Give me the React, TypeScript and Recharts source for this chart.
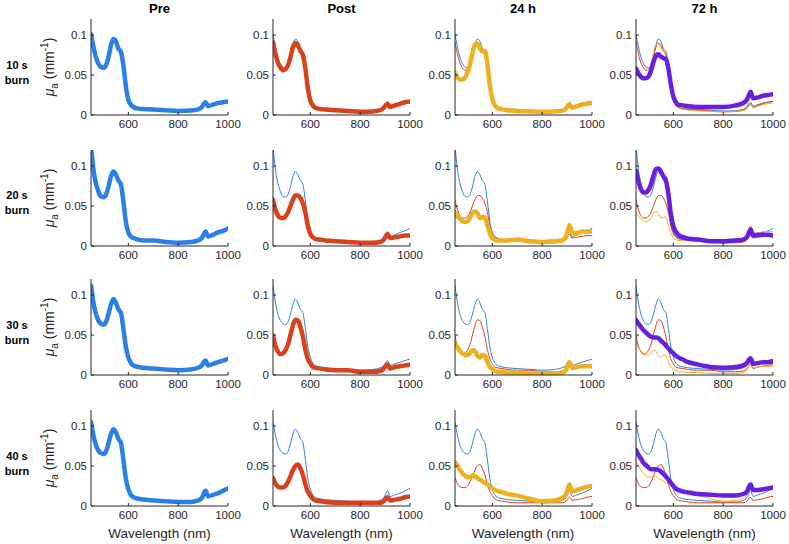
import { LineChart, Line, XAxis, YAxis } from 'recharts';

// wavelength grid (nm)
const WAVELENGTHS = [450, 460, 470, 480, 490, 500, 510, 520, 530, 540, 550, 560, 570, 580, 590, 600, 610, 620, 640, 660, 700, 750, 800, 850, 880, 895, 905, 910, 920, 940, 960, 980, 1000];

// 10 s burn
const pre10 = [0.101, 0.085, 0.072, 0.064, 0.060, 0.059, 0.062, 0.072, 0.087, 0.095, 0.092, 0.083, 0.079, 0.062, 0.036, 0.019, 0.013, 0.010, 0.008, 0.0075, 0.007, 0.006, 0.005, 0.0055, 0.007, 0.010, 0.015, 0.016, 0.011, 0.013, 0.015, 0.016, 0.017];
const post10 = [0.091, 0.076, 0.065, 0.059, 0.056, 0.057, 0.062, 0.072, 0.085, 0.090, 0.087, 0.080, 0.075, 0.058, 0.033, 0.018, 0.012, 0.009, 0.0075, 0.007, 0.006, 0.005, 0.004, 0.0045, 0.006, 0.009, 0.013, 0.014, 0.010, 0.012, 0.014, 0.016, 0.017];
const h24_10 = [0.053, 0.047, 0.044, 0.044, 0.047, 0.053, 0.063, 0.077, 0.088, 0.089, 0.083, 0.080, 0.080, 0.064, 0.037, 0.020, 0.012, 0.009, 0.007, 0.006, 0.005, 0.0045, 0.004, 0.0045, 0.0055, 0.008, 0.012, 0.013, 0.009, 0.011, 0.013, 0.014, 0.015];
const h72_10 = [0.058, 0.052, 0.048, 0.046, 0.046, 0.048, 0.055, 0.066, 0.074, 0.076, 0.073, 0.071, 0.070, 0.058, 0.038, 0.023, 0.016, 0.013, 0.012, 0.011, 0.010, 0.010, 0.010, 0.012, 0.015, 0.019, 0.026, 0.029, 0.021, 0.022, 0.024, 0.025, 0.026];

// 20 s burn
const pre20 = [0.125, 0.095, 0.078, 0.068, 0.062, 0.061, 0.064, 0.074, 0.087, 0.093, 0.089, 0.082, 0.077, 0.056, 0.030, 0.017, 0.012, 0.010, 0.008, 0.007, 0.007, 0.005, 0.004, 0.005, 0.007, 0.010, 0.016, 0.018, 0.012, 0.014, 0.017, 0.019, 0.022];
const post20 = [0.058, 0.045, 0.038, 0.035, 0.035, 0.037, 0.042, 0.050, 0.058, 0.063, 0.063, 0.060, 0.053, 0.042, 0.025, 0.015, 0.011, 0.009, 0.008, 0.007, 0.006, 0.005, 0.004, 0.004, 0.005, 0.008, 0.013, 0.015, 0.010, 0.011, 0.012, 0.013, 0.013];
const h24_20 = [0.042, 0.037, 0.034, 0.031, 0.030, 0.031, 0.035, 0.041, 0.043, 0.041, 0.035, 0.036, 0.036, 0.026, 0.016, 0.010, 0.008, 0.007, 0.007, 0.007, 0.008, 0.006, 0.005, 0.006, 0.007, 0.011, 0.022, 0.026, 0.017, 0.016, 0.018, 0.018, 0.018];
const h72_20 = [0.094, 0.080, 0.071, 0.067, 0.067, 0.070, 0.077, 0.088, 0.096, 0.097, 0.093, 0.087, 0.082, 0.065, 0.040, 0.025, 0.018, 0.014, 0.011, 0.009, 0.008, 0.006, 0.006, 0.007, 0.008, 0.011, 0.018, 0.021, 0.013, 0.014, 0.014, 0.014, 0.013];

// 30 s burn
const pre30 = [0.112, 0.090, 0.076, 0.068, 0.064, 0.063, 0.066, 0.076, 0.088, 0.095, 0.090, 0.082, 0.078, 0.058, 0.035, 0.022, 0.015, 0.012, 0.010, 0.009, 0.008, 0.007, 0.006, 0.007, 0.009, 0.012, 0.017, 0.018, 0.012, 0.014, 0.016, 0.018, 0.020];
const post30 = [0.049, 0.036, 0.029, 0.026, 0.027, 0.031, 0.038, 0.050, 0.062, 0.069, 0.068, 0.060, 0.048, 0.032, 0.020, 0.014, 0.010, 0.009, 0.008, 0.007, 0.006, 0.006, 0.004, 0.004, 0.005, 0.008, 0.012, 0.013, 0.008, 0.010, 0.011, 0.012, 0.013];
const h24_30 = [0.040, 0.034, 0.030, 0.027, 0.025, 0.025, 0.027, 0.031, 0.030, 0.024, 0.022, 0.025, 0.024, 0.016, 0.010, 0.007, 0.005, 0.004, 0.004, 0.003, 0.003, 0.002, 0.002, 0.002, 0.003, 0.006, 0.014, 0.016, 0.009, 0.010, 0.011, 0.011, 0.011];
const h72_30 = [0.069, 0.064, 0.060, 0.056, 0.053, 0.050, 0.048, 0.047, 0.047, 0.046, 0.043, 0.040, 0.037, 0.033, 0.030, 0.027, 0.024, 0.022, 0.019, 0.016, 0.013, 0.010, 0.009, 0.010, 0.012, 0.015, 0.020, 0.021, 0.014, 0.015, 0.016, 0.016, 0.017];

// 40 s burn
const pre40 = [0.105, 0.088, 0.076, 0.069, 0.066, 0.065, 0.068, 0.078, 0.090, 0.096, 0.092, 0.084, 0.079, 0.058, 0.034, 0.021, 0.014, 0.011, 0.009, 0.008, 0.007, 0.006, 0.005, 0.005, 0.007, 0.010, 0.017, 0.019, 0.012, 0.014, 0.016, 0.019, 0.022];
const post40 = [0.035, 0.028, 0.024, 0.023, 0.023, 0.025, 0.030, 0.037, 0.045, 0.050, 0.052, 0.047, 0.039, 0.027, 0.018, 0.013, 0.009, 0.007, 0.006, 0.005, 0.004, 0.004, 0.004, 0.004, 0.004, 0.006, 0.010, 0.011, 0.007, 0.008, 0.009, 0.011, 0.012];
const h24_40 = [0.055, 0.050, 0.045, 0.041, 0.038, 0.036, 0.036, 0.038, 0.037, 0.035, 0.033, 0.031, 0.029, 0.027, 0.025, 0.022, 0.020, 0.019, 0.017, 0.015, 0.013, 0.009, 0.006, 0.007, 0.010, 0.014, 0.024, 0.027, 0.018, 0.020, 0.022, 0.024, 0.025];
const h72_40 = [0.070, 0.064, 0.059, 0.054, 0.051, 0.048, 0.046, 0.046, 0.046, 0.045, 0.043, 0.040, 0.037, 0.033, 0.029, 0.025, 0.022, 0.020, 0.018, 0.017, 0.015, 0.014, 0.013, 0.013, 0.015, 0.018, 0.025, 0.027, 0.020, 0.020, 0.021, 0.022, 0.023];

const ROW_LABELS = ['10 s', '20 s', '30 s', '40 s'];
const ROW_SERIES = [
  [pre10, post10, h24_10, h72_10],
  [pre20, post20, h24_20, h72_20],
  [pre30, post30, h24_30, h72_30],
  [pre40, post40, h24_40, h72_40],
];
const COL_TITLES = ['Pre', 'Post', '24 h', '72 h'];
const SERIES_KEYS = ['pre', 'post', 'h24', 'h72'];
const SERIES_COLORS = ['#2C7FE6', '#D9411A', '#EDB120', '#6A1FE0'];
const X_TICKS = [600, 800, 1000];
const Y_TICKS = [0, 0.05, 0.1];

// layout
const PLOT_LEFT = [91, 273, 454.5, 636];
const PLOT_TOP = [19, 149.5, 279, 410];
const PLOT_W = 137;
const PLOT_H = 96;
const AXIS_W = 30;
const AXIS_H = 22;
const M_TOP = 4;
const M_RIGHT = 14;
const INK = '#262626';
const FONT = '"Liberation Sans", Arial, Helvetica, sans-serif';

function buildRows(series: number[][]) {
  return WAVELENGTHS.map((wl, i) => {
    const row: Record<string, number> = { wl };
    SERIES_KEYS.forEach((k, j) => {
      row[k] = series[j][i];
    });
    return row;
  });
}

function Panel({ r, c }: { r: number; c: number }) {
  const data = buildRows(ROW_SERIES[r]);
  const thin = SERIES_KEYS.slice(0, c);
  return (
    <div style={{ position: 'absolute', left: PLOT_LEFT[c] - AXIS_W, top: PLOT_TOP[r] - M_TOP }}>
      <LineChart
        width={AXIS_W + PLOT_W + M_RIGHT}
        height={M_TOP + PLOT_H + AXIS_H}
        data={data}
        margin={{ top: M_TOP, right: M_RIGHT, bottom: 0, left: 0 }}
      >
        <XAxis
          dataKey="wl"
          type="number"
          domain={[450, 1000]}
          ticks={X_TICKS}
          interval={0}
          allowDataOverflow
          height={AXIS_H}
          tickSize={-3}
          tickMargin={8}
          stroke={INK}
          tick={{ fontSize: 11.5, fill: INK, fontFamily: FONT }}
        />
        <XAxis
          xAxisId="top"
          orientation="top"
          dataKey="wl"
          type="number"
          domain={[450, 1000]}
          ticks={X_TICKS}
          interval={0}
          allowDataOverflow
          height={0}
          tickSize={-3}
          tick={false}
          stroke={INK}
        />
        <YAxis
          type="number"
          domain={[0, 0.12]}
          ticks={Y_TICKS}
          interval={0}
          allowDataOverflow
          width={AXIS_W}
          tickSize={-3}
          tickMargin={7}
          stroke={INK}
          tick={{ fontSize: 11.5, fill: INK, fontFamily: FONT }}
        />
        <YAxis
          yAxisId="right"
          orientation="right"
          type="number"
          domain={[0, 0.12]}
          ticks={Y_TICKS}
          interval={0}
          allowDataOverflow
          width={0}
          tickSize={-3}
          tick={false}
          stroke={INK}
        />
        {/* earlier time points, thin */}
        {thin.map((k, j) => (
          <Line
            key={k}
            type="monotone"
            dataKey={k}
            stroke={SERIES_COLORS[j]}
            strokeWidth={1}
            dot={false}
            isAnimationActive={false}
          />
        ))}
        {/* current time point, thick */}
        <Line
          type="monotone"
          dataKey={SERIES_KEYS[c]}
          stroke={SERIES_COLORS[c]}
          strokeWidth={4.5}
          strokeLinejoin="round"
          strokeLinecap="round"
          dot={false}
          isAnimationActive={false}
        />
      </LineChart>
    </div>
  );
}

export default function App() {
  return (
    <div
      style={{
        position: 'absolute',
        left: 0,
        top: 0,
        width: 789,
        height: 544,
        background: '#fff',
        fontFamily: FONT,
        color: INK,
      }}
    >
      {COL_TITLES.map((t, c) => (
        <div
          key={t}
          style={{
            position: 'absolute',
            left: PLOT_LEFT[c],
            width: PLOT_W,
            top: 1,
            lineHeight: '16px',
            textAlign: 'center',
            fontWeight: 700,
            fontSize: 13,
            color: '#000',
          }}
        >
          {t}
        </div>
      ))}

      {ROW_LABELS.map((label, r) => {
        const cy = PLOT_TOP[r] + PLOT_H / 2;
        return (
          <div key={label}>
            <div
              style={{
                position: 'absolute',
                left: 0,
                width: 34,
                top: cy - 9.5,
                lineHeight: '15px',
                textAlign: 'center',
                fontWeight: 700,
                fontSize: 11,
                color: '#000',
              }}
            >
              {label}
              <br />
              burn
            </div>
            <div
              style={{
                position: 'absolute',
                left: 50,
                top: cy,
                transform: 'translate(-50%, -50%) rotate(-90deg)',
                whiteSpace: 'nowrap',
                fontSize: 14,
                lineHeight: '16px',
              }}
            >
              <i>μ</i>
              <sub style={{ fontSize: 10 }}>a</sub> (mm<sup style={{ fontSize: 10 }}>-1</sup>)
            </div>
          </div>
        );
      })}

      {COL_TITLES.map((t, c) => (
        <div
          key={'xl' + t}
          style={{
            position: 'absolute',
            left: PLOT_LEFT[c] - 20,
            width: PLOT_W + 40,
            top: 526,
            lineHeight: '16px',
            textAlign: 'center',
            fontSize: 13.5,
          }}
        >
          Wavelength (nm)
        </div>
      ))}

      {ROW_LABELS.map((_, r) =>
        COL_TITLES.map((__, c) => <Panel key={r + '-' + c} r={r} c={c} />)
      )}
    </div>
  );
}
